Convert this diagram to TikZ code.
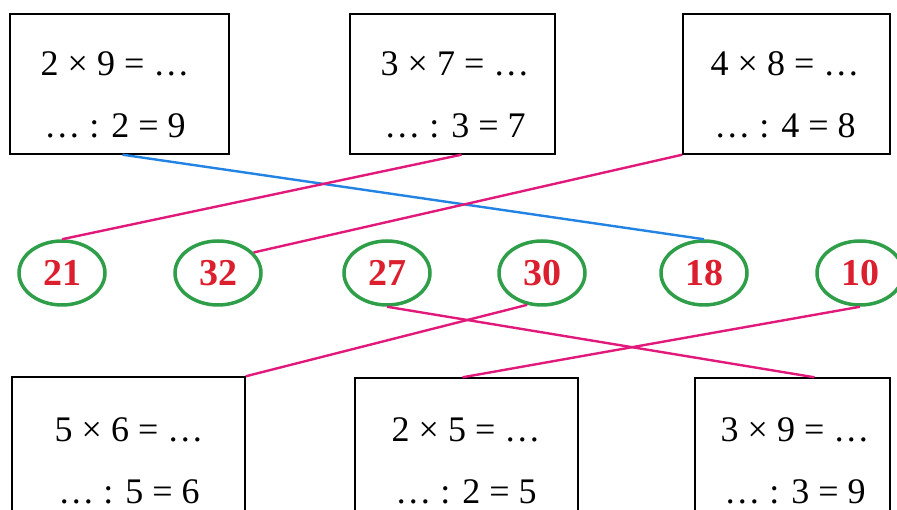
\documentclass[tikz,border=0pt]{standalone}
\usepackage{fontspec}
\setmainfont{Liberation Serif}
\usetikzlibrary{shapes.geometric}
\definecolor{ringgreen}{HTML}{2E9E48}
\definecolor{numred}{HTML}{DC1F2E}
\definecolor{linkpink}{HTML}{E0197A}
\definecolor{linkblue}{HTML}{2283E2}
\newcommand{\taskpair}[2]{#1\\[0pt]#2}

\begin{document}
\begin{tikzpicture}[x=1pt,y=-1pt,
  taskbox/.style={draw=black,line width=1.4pt,minimum width=#1,minimum height=140pt,inner sep=0pt},
  tasktext/.style={align=center,font=\fontsize{36}{62}\selectfont},
  ring/.style={ellipse,draw=ringgreen,line width=3.5pt,minimum width=86pt,minimum height=64pt,
    inner sep=0pt,text=numred,font=\fontsize{38}{40}\selectfont\bfseries},
  link/.style={draw=linkpink,line width=2.4pt}]
\useasboundingbox (0,0) rectangle (897,510);
% top row
\node[taskbox=219pt] (b1) at (119.5,84) {};
\node[taskbox=205pt] (b2) at (452.5,84) {};
\node[taskbox=207pt] (b3) at (786.5,84) {};
\node[tasktext] (t1) at (115,95) {\taskpair{2 × 9 = …}{… : 2 = 9}};
\node[tasktext] (t2) at (455,95) {\taskpair{3 × 7 = …}{… : 3 = 7}};
\node[tasktext] (t3) at (785,95) {\taskpair{4 × 8 = …}{… : 4 = 8}};
% answers
\node[ring] (n21) at (62,273) {21};
\node[ring] (n32) at (218,273) {32};
\node[ring] (n27) at (387,273) {27};
\node[ring] (n30) at (542,273) {30};
\node[ring] (n18) at (704,273) {18};
\node[ring] (n10) at (860,273) {10};
% bottom row
\node[taskbox=233pt,minimum height=146pt] (b4) at (128.5,450) {};
\node[taskbox=223pt,minimum height=146pt] (b5) at (466.5,451) {};
\node[taskbox=195pt,minimum height=146pt] (b6) at (792.5,451) {};
\node[tasktext] (t4) at (129,461) {\taskpair{5 × 6 = …}{… : 5 = 6}};
\node[tasktext] (t5) at (466,461) {\taskpair{2 × 5 = …}{… : 2 = 5}};
\node[tasktext] (t6) at (795,461) {\taskpair{3 × 9 = …}{… : 3 = 9}};
% matches
\draw[link,draw=linkblue] ([xshift=3pt]b1.south) -- (n18.north);
\draw[link] ([xshift=9pt]b2.south) -- (n21.north);
\draw[link] (b3.south west) -- (n32.30);
\draw[link] (n27.south) -- ([xshift=22pt]b6.north);
\draw[link] (n30.-115) -- (b4.north east);
\draw[link] (n10.south) -- ([xshift=-4pt]b5.north);
\end{tikzpicture}
\end{document}
